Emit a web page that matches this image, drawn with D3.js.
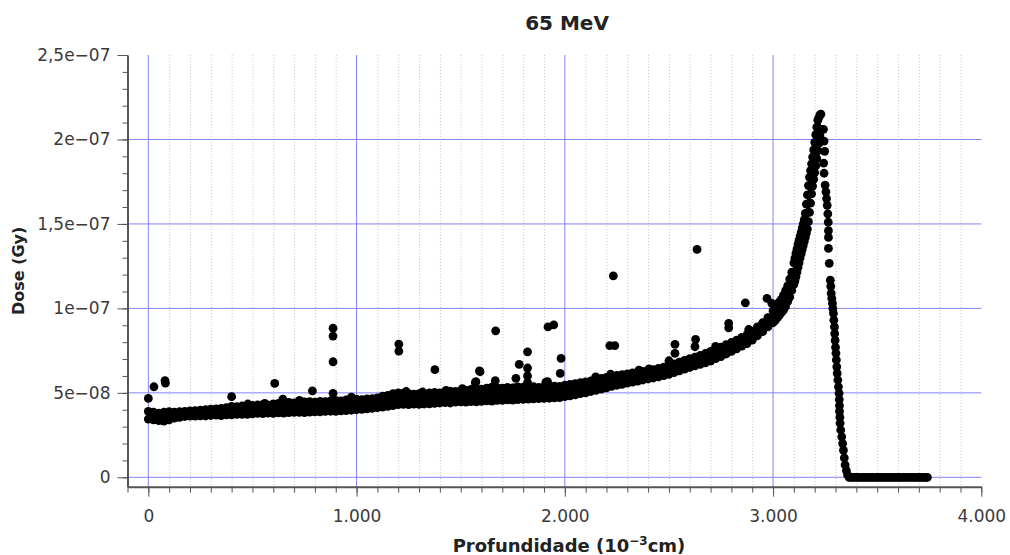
<!DOCTYPE html>
<html>
<head>
<meta charset="utf-8">
<script src="https://cdn.jsdelivr.net/npm/d3@7"></script>
<style>
  body { margin: 0; background: #fff; }
  text { font-family: "DejaVu Sans", sans-serif; }
</style>
</head>
<body>
<svg id="chart" width="1010" height="555"></svg>
<script>
// --- Data ---
// depth in 10^-3 cm, dose in units of 1e-8 Gy

// main band: lower and upper edge of the dense cloud of points
const bandDepth = [
  0, 25, 50, 75, 100, 125, 150, 175, 200, 225,
  250, 275, 300, 325, 350, 375, 400, 425, 450, 475,
  500, 525, 550, 575, 600, 625, 650, 675, 700, 725,
  750, 775, 800, 825, 850, 875, 900, 925, 950, 975,
  1000, 1025, 1050, 1075, 1100, 1125, 1150, 1175, 1200, 1225,
  1250, 1275, 1300, 1325, 1350, 1375, 1400, 1425, 1450, 1475,
  1500, 1525, 1550, 1575, 1600, 1625, 1650, 1675, 1700, 1725,
  1750, 1775, 1800, 1825, 1850, 1875, 1900, 1925, 1950, 1975,
  2000, 2025, 2050, 2075, 2100, 2125, 2150, 2175, 2200, 2225,
  2250, 2275, 2300, 2325, 2350, 2375, 2400, 2425, 2450, 2475,
  2500, 2525, 2550, 2575, 2600, 2625, 2650, 2675, 2700, 2725,
  2750, 2775, 2800, 2825, 2850, 2875, 2900, 2925, 2950, 2975,
  3000, 3010, 3020, 3030, 3040, 3050, 3060, 3070, 3080, 3090,
  3100, 3105, 3110, 3115, 3120, 3125, 3130, 3135, 3140, 3145,
  3150, 3155, 3160, 3165, 3170, 3175, 3180, 3185, 3190, 3195,
  3200, 3205, 3210, 3215, 3220, 3225, 3230
];
const bandLow = [
  3.45, 3.40, 3.35, 3.33, 3.40, 3.50, 3.55, 3.60, 3.62, 3.62,
  3.64, 3.63, 3.66, 3.68, 3.65, 3.70, 3.70, 3.72, 3.73, 3.72,
  3.76, 3.78, 3.77, 3.80, 3.79, 3.82, 3.80, 3.83, 3.84, 3.85,
  3.83, 3.86, 3.88, 3.87, 3.90, 3.91, 3.90, 3.93, 3.95, 3.97,
  4.00, 4.02, 4.05, 4.08, 4.12, 4.15, 4.20, 4.25, 4.30, 4.32,
  4.30, 4.33, 4.32, 4.34, 4.35, 4.38, 4.40, 4.42, 4.40, 4.45,
  4.46, 4.45, 4.48, 4.47, 4.50, 4.52, 4.51, 4.55, 4.56, 4.58,
  4.57, 4.60, 4.62, 4.63, 4.64, 4.66, 4.67, 4.68, 4.70, 4.72,
  4.78, 4.82, 4.88, 4.95, 5.00, 5.08, 5.15, 5.22, 5.30, 5.38,
  5.45, 5.50, 5.58, 5.63, 5.70, 5.76, 5.82, 5.88, 5.95, 6.02,
  6.10, 6.20, 6.30, 6.40, 6.50, 6.60, 6.68, 6.78, 6.88, 7.02,
  7.15, 7.30, 7.45, 7.60, 7.76, 7.92, 8.12, 8.38, 8.62, 8.90,
  9.15, 9.27, 9.43, 9.59, 9.75, 9.90, 10.10, 10.40, 10.67, 11.06,
  11.42, 11.62, 11.87, 12.15, 12.43, 12.70, 12.99, 13.24, 13.48, 13.72,
  13.96, 14.20, 14.45, 14.70, 15.13, 15.68, 16.23, 16.78, 17.24, 17.64,
  18.04, 18.44, 18.87, 19.32, 19.77, 20.22, 20.60
];
const bandHigh = [
  3.90, 3.85, 3.80, 3.85, 3.88, 3.85, 3.88, 3.90, 3.93, 3.95,
  3.97, 4.00, 4.03, 4.05, 4.08, 4.12, 4.20, 4.18, 4.22, 4.20,
  4.25, 4.28, 4.30, 4.27, 4.35, 4.38, 4.36, 4.44, 4.40, 4.42,
  4.46, 4.48, 4.45, 4.50, 4.48, 4.52, 4.55, 4.53, 4.58, 4.60,
  4.62, 4.60, 4.64, 4.66, 4.70, 4.80, 4.85, 4.95, 5.00, 4.98,
  4.95, 4.92, 4.95, 4.93, 5.00, 5.02, 5.00, 5.05, 5.10, 5.08,
  5.12, 5.15, 5.20, 5.25, 5.22, 5.28, 5.34, 5.30, 5.28, 5.32,
  5.30, 5.35, 5.33, 5.30, 5.36, 5.32, 5.35, 5.38, 5.40, 5.38,
  5.45, 5.50, 5.55, 5.60, 5.65, 5.70, 5.78, 5.85, 5.92, 6.00,
  6.03, 6.08, 6.12, 6.18, 6.22, 6.27, 6.32, 6.38, 6.45, 6.52,
  6.62, 6.72, 6.82, 6.92, 7.02, 7.12, 7.22, 7.33, 7.45, 7.58,
  7.70, 7.85, 7.98, 8.12, 8.28, 8.45, 8.65, 8.90, 9.15, 9.45,
  9.85, 10.06, 10.22, 10.38, 10.54, 10.77, 11.05, 11.34, 11.74, 12.14,
  12.69, 12.97, 13.25, 13.53, 13.80, 14.04, 14.28, 14.52, 14.76, 15.00,
  15.25, 15.62, 16.17, 16.72, 17.27, 17.76, 18.16, 18.56, 18.96, 19.38,
  19.83, 20.28, 20.73, 21.14, 21.30, 21.45, 21.50
];

// distal falloff after the Bragg peak
const fallDepth = [
  3242, 3245, 3248, 3243, 3245, 3250, 3254, 3257, 3260, 3263,
  3265, 3266, 3266, 3266, 3270, 3275, 3277, 3279, 3282, 3285,
  3287, 3290, 3292, 3295, 3296, 3298, 3300, 3302, 3304, 3306,
  3308, 3311, 3314, 3317, 3318, 3319, 3319, 3321, 3322, 3325,
  3330, 3334, 3338, 3342, 3346, 3352, 3358
];
const fallDose = [
  20.6, 19.9, 19.3, 18.6, 18.0, 17.3, 16.9, 16.5, 16.1, 15.6,
  15.1, 14.6, 14.2, 13.55, 12.66, 11.67, 11.3, 10.9, 10.6, 10.3,
  10.0, 9.7, 9.3, 8.9, 8.5, 8.1, 7.7, 7.34, 6.95, 6.54,
  6.15, 5.76, 5.36, 4.97, 4.6, 4.25, 3.9, 3.55, 3.2, 2.8,
  2.4, 2.0, 1.6, 1.15, 0.73, 0.4, 0.14
];

// beyond the range: zero dose
const tailDepth = [
  3365, 3375, 3385, 3395, 3405, 3415, 3425, 3435, 3445, 3455,
  3465, 3475, 3485, 3495, 3505, 3515, 3525, 3535, 3545, 3555,
  3565, 3575, 3585, 3595, 3605, 3615, 3625, 3635, 3645, 3655,
  3665, 3675, 3685, 3695, 3705, 3715, 3725, 3735, 3741
];

// scattered points above the band (outliers and bumps on its top edge)
const outDepth = [
  0, 27, 80, 82, 400, 607, 788, 887, 887, 887,
  887, 1203, 1203, 1376, 1570, 1573, 1590, 1593, 1666, 1668,
  1765, 1781, 1821, 1821, 1821, 1821, 1917, 1919, 1947, 1978,
  1982, 2216, 2240, 2233, 2529, 2529, 2625, 2628, 2635, 2787,
  2787, 2867, 2971, 2994,
  478, 559, 646, 726, 975, 1238, 1317, 1430, 1508, 1757,
  1909, 2148, 2220, 2356, 2404, 2500, 2724, 2883
];
const outDose = [
  4.67, 5.36, 5.72, 5.58, 4.77, 5.56, 5.12, 4.97, 6.84, 8.36,
  8.83, 7.47, 7.89, 6.37, 5.6, 5.66, 6.3, 6.25, 5.72, 8.67,
  5.86, 6.69, 5.6, 6.0, 6.47, 7.43, 5.66, 8.9, 9.02, 6.15,
  7.04, 7.8, 7.8, 11.93, 7.34, 7.87, 7.73, 8.17, 13.49, 8.85,
  9.11, 10.33, 10.59, 10.3,
  4.34, 4.38, 4.63, 4.55, 4.75, 5.08, 5.05, 5.15, 5.25, 5.3,
  5.63, 5.95, 6.1, 6.35, 6.42, 6.9, 7.75, 8.75
];

// ticks
const xMajor = [0, 1000, 2000, 3000, 4000];
const xMajorLabels = ["0", "1.000", "2.000", "3.000", "4.000"];
const yMajor = [0, 5, 10, 15, 20, 25];
const yMajorLabels = ["0", "5e\u221208", "1e\u221207", "1,5e\u221207", "2e\u221207", "2,5e\u221207"];

// --- Set up ---
const svg = d3.select("#chart");
const x = d3.scaleLinear().domain([-100, 4000]).range([127.5, 981.3]);
const y = d3.scaleLinear().domain([-0.556, 25]).range([486.7, 55]);
const [plotLeft, plotRight] = x.range();
const [plotBottom, plotTop] = y.range();

const xMinor = d3.range(-100, 4001, 100);
const yMinor = d3.range(0, 25.01, 1);

// --- Grid ---
const grid = svg.append("g");
grid.selectAll(".minor-v")
  .data(xMinor.filter(v => v % 1000 !== 0 && v > -100))
  .join("line")
  .attr("x1", d => x(d) + 0.5).attr("x2", d => x(d) + 0.5)
  .attr("y1", plotTop).attr("y2", plotBottom)
  .attr("stroke", "#c8c8c8")
  .attr("stroke-dasharray", "1 2");

grid.selectAll(".major-v")
  .data(xMajor.filter(v => v < 4000))
  .join("line")
  .attr("x1", d => x(d)).attr("x2", d => x(d))
  .attr("y1", plotTop).attr("y2", plotBottom)
  .attr("stroke", "#8282f5");

grid.selectAll(".major-h")
  .data(yMajor.filter(v => v < 25))
  .join("line")
  .attr("x1", plotLeft).attr("x2", plotRight)
  .attr("y1", d => y(d)).attr("y2", d => y(d))
  .attr("stroke", "#8282f5");

// --- Points ---
const dots = svg.append("g").attr("fill", "#000");

const band = d3.area()
  .x((d, i) => x(bandDepth[i]))
  .y0((d, i) => y(bandLow[i]))
  .y1((d, i) => y(bandHigh[i]));
dots.append("path").datum(bandDepth).attr("d", band);

const pts = [];
bandDepth.forEach((d, i) => {
  pts.push([d, bandLow[i]]);
  pts.push([d, bandHigh[i]]);
});
fallDepth.forEach((d, i) => pts.push([d, fallDose[i]]));
tailDepth.forEach(d => pts.push([d, 0]));
outDepth.forEach((d, i) => pts.push([d, outDose[i]]));

dots.selectAll("circle")
  .data(pts)
  .join("circle")
  .attr("cx", d => x(d[0]))
  .attr("cy", d => y(d[1]))
  .attr("r", 4.4);

// --- Axes ---
function styleAxis(g) {
  g.select(".domain").attr("stroke", "#555").attr("stroke-width", 2);
  g.selectAll(".tick line").attr("stroke", "#555");
  g.selectAll(".tick text")
    .attr("fill", "#3a3a3a")
    .style("font-family", "'DejaVu Sans', sans-serif")
    .style("font-size", "17px");
}

svg.append("g")
  .attr("transform", `translate(${plotLeft},0)`)
  .call(d3.axisLeft(y).tickValues(yMinor).tickSize(5).tickSizeOuter(0).tickFormat(""))
  .call(styleAxis);
svg.append("g")
  .attr("transform", `translate(${plotLeft},0)`)
  .call(d3.axisLeft(y).tickValues(yMajor).tickSize(10).tickSizeOuter(0).tickPadding(7)
    .tickFormat((d, i) => yMajorLabels[i]))
  .call(styleAxis)
  .call(g => g.select(".domain").remove());

svg.append("g")
  .attr("transform", `translate(0,${plotBottom})`)
  .call(d3.axisBottom(x).tickValues(xMinor).tickSize(6).tickSizeOuter(0).tickFormat(""))
  .call(styleAxis);
svg.append("g")
  .attr("transform", `translate(0,${plotBottom})`)
  .call(d3.axisBottom(x).tickValues(xMajor).tickSize(10).tickSizeOuter(0).tickPadding(13)
    .tickFormat((d, i) => xMajorLabels[i]))
  .call(styleAxis)
  .call(g => g.select(".domain").remove());

// --- Titles ---
svg.append("text")
  .attr("x", 567)
  .attr("y", 30)
  .attr("text-anchor", "middle")
  .attr("font-weight", "bold")
  .attr("font-size", 20)
  .attr("fill", "#222")
  .text("65 MeV");

const xl = svg.append("text")
  .attr("x", 569)
  .attr("y", 552)
  .attr("text-anchor", "middle")
  .attr("font-weight", "bold")
  .attr("font-size", 18)
  .attr("fill", "#222");
xl.append("tspan").text("Profundidade (10");
xl.append("tspan").attr("dy", -7).attr("font-size", 12).text("\u22123");
xl.append("tspan").attr("dy", 7).text("cm)");

svg.append("text")
  .attr("transform", `translate(24,${(plotTop + plotBottom) / 2}) rotate(-90)`)
  .attr("text-anchor", "middle")
  .attr("font-weight", "bold")
  .attr("font-size", 16)
  .attr("fill", "#222")
  .text("Dose (Gy)");
</script>
</body>
</html>
